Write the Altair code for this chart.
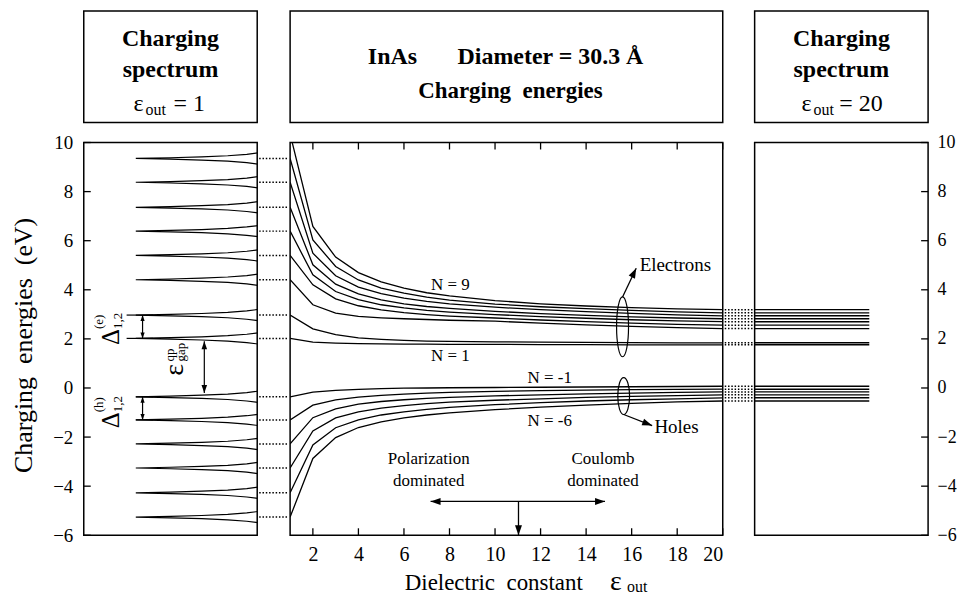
import altair as alt
import pandas as pd

FONT = "Liberation Serif"
NB = "\u00a0"

# ---------------- data ----------------
EPS = [1, 2, 3, 4, 5, 6, 7, 8, 10, 12, 14, 16, 18, 20]

ELEC_N1 = [2.02, 1.87, 1.83, 1.81, 1.80, 1.79, 1.79, 1.78, 1.78, 1.77, 1.77, 1.76, 1.76, 1.76]
ELEC_N2 = [2.97, 2.41, 2.17, 2.04, 1.98, 1.94, 1.91, 1.90, 1.88, 1.87, 1.86, 1.85, 1.84, 1.84]
ELEC_N3 = [4.41, 3.39, 3.05, 2.92, 2.86, 2.82, 2.79, 2.76, 2.72, 2.64, 2.57, 2.51, 2.46, 2.42]
ELEC_N4 = [5.40, 4.20, 3.63, 3.35, 3.18, 3.07, 2.99, 2.93, 2.85, 2.77, 2.70, 2.64, 2.59, 2.56]
ELEC_N5 = [6.39, 4.61, 3.93, 3.60, 3.39, 3.26, 3.16, 3.09, 2.99, 2.91, 2.84, 2.78, 2.73, 2.70]
ELEC_N6 = [7.36, 5.02, 4.23, 3.83, 3.59, 3.43, 3.32, 3.24, 3.12, 3.03, 2.96, 2.90, 2.85, 2.82]
ELEC_N7 = [8.38, 5.49, 4.57, 4.11, 3.84, 3.66, 3.53, 3.43, 3.29, 3.19, 3.11, 3.04, 2.98, 2.94]
ELEC_N8 = [9.35, 6.03, 4.95, 4.40, 4.07, 3.86, 3.70, 3.58, 3.42, 3.31, 3.23, 3.16, 3.10, 3.06]
ELEC_N9 = [10.35, 6.58, 5.33, 4.70, 4.32, 4.07, 3.88, 3.75, 3.56, 3.43, 3.34, 3.27, 3.22, 3.19]

HOLE_N1 = [-0.36, -0.17, -0.10, -0.06, -0.03, -0.01, 0.00, 0.01, 0.02, 0.03, 0.04, 0.05, 0.06, 0.07]
HOLE_N2 = [-1.30, -0.70, -0.48, -0.37, -0.30, -0.25, -0.21, -0.18, -0.14, -0.11, -0.09, -0.07, -0.06, -0.05]
HOLE_N3 = [-2.28, -1.21, -0.85, -0.66, -0.55, -0.48, -0.42, -0.38, -0.32, -0.28, -0.24, -0.21, -0.18, -0.16]
HOLE_N4 = [-3.26, -1.75, -1.22, -0.97, -0.82, -0.72, -0.64, -0.58, -0.50, -0.44, -0.38, -0.34, -0.31, -0.28]
HOLE_N5 = [-4.27, -2.32, -1.62, -1.30, -1.10, -0.97, -0.87, -0.79, -0.68, -0.60, -0.53, -0.48, -0.44, -0.40]
HOLE_N6 = [-5.26, -2.87, -2.02, -1.61, -1.38, -1.22, -1.10, -1.01, -0.88, -0.78, -0.70, -0.63, -0.57, -0.53]

CURVES = {
    "1": ELEC_N1, "2": ELEC_N2, "3": ELEC_N3, "4": ELEC_N4, "5": ELEC_N5,
    "6": ELEC_N6, "7": ELEC_N7, "8": ELEC_N8, "9": ELEC_N9,
    "-1": HOLE_N1, "-2": HOLE_N2, "-3": HOLE_N3, "-4": HOLE_N4, "-5": HOLE_N5, "-6": HOLE_N6,
}

# peaks of the eps_out = 1 charging spectrum
PEAKS = [9.35, 8.38, 7.36, 6.39, 5.40, 4.41, 2.97, 2.02,
         -0.36, -1.30, -2.28, -3.26, -4.27, -5.26]
# shape of one spectral spike: energy offset vs. intensity
SPIKE_DE = [0.26, 0.17, 0.11, 0.065, 0.03, 0.0, -0.03, -0.065, -0.11, -0.17, -0.26]
SPIKE_I = [-0.04, 0.06, 0.17, 0.32, 0.50, 0.70, 0.50, 0.32, 0.17, 0.06, -0.04]

Y_TICKS = [-6, -4, -2, 0, 2, 4, 6, 8, 10]
X_TICKS = [2, 4, 6, 8, 10, 12, 14, 16, 18, 20]

# ---------------- sizes / shapes ----------------
H = 394
W_L, W_G1, W_M, W_G2, W_R = 174, 33, 434, 32, 174
BOX_H = 112
ARROW = "M0 0 L0.7 2 L-0.7 2 Z"
ELL_E = "M0 -1 A0.2 1 0 0 1 0 1 A0.2 1 0 0 1 0 -1 Z"
ELL_H = "M0 -1 A0.32 1 0 0 1 0 1 A0.32 1 0 0 1 0 -1 Z"

yscale = alt.Scale(domain=[-6, 10], nice=False, zero=False)
iscale = alt.Scale(domain=[0, 1], reverse=True, nice=False, zero=False)
escale = alt.Scale(domain=[1, 20], nice=False, zero=False)

curves_df = pd.DataFrame(
    [{"N": n, "eps": e, "E": v} for n, vals in CURVES.items() for e, v in zip(EPS, vals)]
)
end_df = pd.DataFrame({"E": [vals[-1] for vals in CURVES.values()]})
peaks_df = pd.DataFrame({"E": PEAKS})
spike_df = pd.DataFrame(
    [{"peak": k, "order": j, "E": p + d, "I": i}
     for k, p in enumerate(PEAKS) for j, (d, i) in enumerate(zip(SPIKE_DE, SPIKE_I))]
)
ytick_df = pd.DataFrame({"E": Y_TICKS})
xtick_df = pd.DataFrame({"eps": X_TICKS})
one = pd.DataFrame({"a": [0]})


def txt(text, x, y, size, weight="normal", align="left", baseline="alphabetic", angle=0):
    return alt.Chart(one).mark_text(
        text=text, font=FONT, fontSize=size, fontWeight=weight, align=align,
        baseline=baseline, angle=angle, color="black"
    ).encode(x=alt.value(x), y=alt.value(y))


# ---------------- left panel: charging spectrum eps=1 ----------------
left_axis = alt.Axis(
    values=Y_TICKS, ticks=False, domain=False, grid=False, labelFontSize=19,
    labelPadding=11, labelFont=FONT, labelColor="black",
    title=f"Charging{NB}{NB}energies{NB}{NB}(eV)", titleFont=FONT, titleFontSize=26,
    titleFontWeight="normal", titleColor="black", titleAngle=270, titleAlign="center",
    titleBaseline="alphabetic", titleX=-52, titleY=203,
)
YL = alt.Y("E:Q", scale=yscale, axis=left_axis)
XI = alt.X("I:Q", scale=iscale, axis=None)

spikes = alt.Chart(spike_df).mark_line(clip=True, color="black", strokeWidth=1.2).encode(
    x=XI, y=YL, detail="peak:N", order="order:Q")
lticks = alt.Chart(ytick_df).mark_rule(color="black", strokeWidth=1.3).encode(
    y=YL, x=alt.value(0), x2=alt.value(7))

left_rules_df = pd.DataFrame([
    {"I": 0.661, "I2": 0.661, "E": 2.97, "E2": 2.02},
    {"I": 0.661, "I2": 0.661, "E": -0.36, "E2": -1.30},
    {"I": 0.305, "I2": 0.305, "E": 1.90, "E2": -0.20},
    {"I": 0.753, "I2": 0.60, "E": 2.97, "E2": 2.97},
    {"I": 0.753, "I2": 0.60, "E": 2.02, "E2": 2.02},
    {"I": 0.70, "I2": 0.60, "E": -0.36, "E2": -0.36},
    {"I": 0.70, "I2": 0.60, "E": -1.30, "E2": -1.30},
])
left_rules = alt.Chart(left_rules_df).mark_rule(color="black", strokeWidth=1.2).encode(
    x=XI, x2="I2:Q", y=YL, y2="E2:Q")
left_heads_df = pd.DataFrame([
    {"I": 0.661, "E": 2.97, "ang": 0, "sz": 36},
    {"I": 0.661, "E": 2.02, "ang": 180, "sz": 36},
    {"I": 0.661, "E": -0.36, "ang": 0, "sz": 36},
    {"I": 0.661, "E": -1.30, "ang": 180, "sz": 36},
    {"I": 0.305, "E": 1.90, "ang": 0, "sz": 64},
    {"I": 0.305, "E": -0.20, "ang": 180, "sz": 64},
])
left_heads = alt.Chart(left_heads_df).mark_point(
    shape=ARROW, filled=True, color="black", opacity=1, strokeWidth=0).encode(
    x=XI, y=YL, angle=alt.Angle("ang:Q", scale=None), size=alt.Size("sz:Q", scale=None))

left_lab_df = pd.DataFrame([
    {"t": "Δ", "I": 0.845, "E": 2.08, "fs": 25},
    {"t": "Δ", "I": 0.845, "E": -1.31, "fs": 25},
    {"t": "ε", "I": 0.471, "E": 0.74, "fs": 28},
])
left_big = alt.Chart(left_lab_df).mark_text(
    font=FONT, angle=270, align="center", baseline="middle", color="black", fontSize=24).encode(
    x=XI, y=YL, text="t:N", size=alt.Size("fs:Q", scale=None))
left_small_df = pd.DataFrame([
    {"t": "(e)", "I": 0.914, "E": 2.40},
    {"t": "1,2", "I": 0.800, "E": 2.40},
    {"t": "(h)", "I": 0.914, "E": -0.99},
    {"t": "1,2", "I": 0.800, "E": -0.99},
    {"t": "qp", "I": 0.505, "E": 1.08},
    {"t": "gap", "I": 0.440, "E": 1.08},
])
left_small = alt.Chart(left_small_df).mark_text(
    font=FONT, angle=270, align="left", baseline="middle", color="black", fontSize=13).encode(
    x=XI, y=YL, text="t:N")

left_panel = alt.layer(spikes, lticks, left_rules, left_heads, left_big, left_small).properties(
    width=W_L, height=H)

# ---------------- gap 1: dotted connectors ----------------
gap1 = alt.Chart(peaks_df).mark_rule(color="black", strokeWidth=1.5, strokeDash=[1.5, 1.8]).encode(
    y=alt.Y("E:Q", scale=yscale, axis=None), x=alt.value(2), x2=alt.value(31)
).properties(width=W_G1, height=H, view=alt.ViewBackground(stroke="transparent"))

# ---------------- middle panel: charging energies vs eps_out ----------------
mid_x_axis = alt.Axis(values=X_TICKS, ticks=False, domain=False, grid=False, labelFontSize=20,
                      labelPadding=9, labelFont=FONT, labelColor="black", title=None)
XM = alt.X("eps:Q", scale=escale, axis=mid_x_axis)
YM = alt.Y("E:Q", scale=yscale, axis=None)

mid_lines = alt.Chart(curves_df).mark_line(clip=True, color="black", strokeWidth=1.3).encode(
    x=XM, y=YM, detail="N:N")
mticks_b = alt.Chart(xtick_df).mark_rule(color="black", strokeWidth=1.3).encode(
    x=XM, y=alt.value(H), y2=alt.value(H - 7))
mticks_t = alt.Chart(xtick_df).mark_rule(color="black", strokeWidth=1.3).encode(
    x=XM, y=alt.value(0), y2=alt.value(7))

n_df = pd.DataFrame([
    {"t": f"N{NB}={NB}9", "eps": 8.04, "E": 4.19},
    {"t": f"N{NB}={NB}1", "eps": 8.04, "E": 1.31},
    {"t": f"N{NB}={NB}-1", "eps": 12.4, "E": 0.42},
    {"t": f"N{NB}={NB}-6", "eps": 12.4, "E": -1.33},
    {"t": "Polarization", "eps": 7.09, "E": -2.91},
    {"t": "dominated", "eps": 7.09, "E": -3.77},
    {"t": "Coulomb", "eps": 14.74, "E": -2.91},
    {"t": "dominated", "eps": 14.74, "E": -3.77},
])
n_text = alt.Chart(n_df).mark_text(
    font=FONT, fontSize=17, align="center", baseline="middle", color="black").encode(
    x=XM, y=YM, text="t:N")
eh_df = pd.DataFrame([
    {"t": "Electrons", "eps": 16.35, "E": 5.0},
    {"t": "Holes", "eps": 17.0, "E": -1.57},
])
eh_text = alt.Chart(eh_df).mark_text(
    font=FONT, fontSize=19, align="left", baseline="middle", color="black").encode(
    x=XM, y=YM, text="t:N")

ell_e = alt.Chart(pd.DataFrame({"eps": [15.6], "E": [2.49]})).mark_point(
    shape=ELL_E, filled=False, color="black", opacity=1, strokeWidth=1.2, size=3600).encode(x=XM, y=YM)
ell_h = alt.Chart(pd.DataFrame({"eps": [15.65], "E": [-0.33]})).mark_point(
    shape=ELL_H, filled=False, color="black", opacity=1, strokeWidth=1.2, size=1369).encode(x=XM, y=YM)

mid_rules_df = pd.DataFrame([
    {"eps": 15.6, "eps2": 16.2, "E": 3.71, "E2": 4.88},
    {"eps": 15.65, "eps2": 16.9, "E": -1.08, "E2": -1.53},
    {"eps": 7.17, "eps2": 14.83, "E": -4.62, "E2": -4.62},
    {"eps": 11.03, "eps2": 11.03, "E": -4.62, "E2": -6.0},
])
mid_rules = alt.Chart(mid_rules_df).mark_rule(color="black", strokeWidth=1.3).encode(
    x=XM, x2="eps2:Q", y=YM, y2="E2:Q")
mid_heads_df = pd.DataFrame([
    {"eps": 16.2, "E": 4.88, "ang": 26},
    {"eps": 16.9, "E": -1.53, "ang": 111},
    {"eps": 7.17, "E": -4.62, "ang": 270},
    {"eps": 14.83, "E": -4.62, "ang": 90},
    {"eps": 11.03, "E": -6.0, "ang": 180},
])
mid_heads = alt.Chart(mid_heads_df).mark_point(
    shape=ARROW, filled=True, color="black", opacity=1, strokeWidth=0, size=100).encode(
    x=XM, y=YM, angle=alt.Angle("ang:Q", scale=None))

xt1 = txt(f"Dielectric{NB}{NB}constant", 115, 449, 23)
xt2 = txt("ε", 321, 449, 28)
xt3 = txt("out", 338, 451, 16)

mid_panel = alt.layer(mid_lines, mticks_b, mticks_t, n_text, eh_text, ell_e, ell_h,
                      mid_rules, mid_heads, xt1, xt2, xt3).properties(width=W_M, height=H)

# ---------------- gap 2 ----------------
gap2 = alt.Chart(end_df).mark_rule(color="black", strokeWidth=1.5, strokeDash=[1.5, 1.8]).encode(
    y=alt.Y("E:Q", scale=yscale, axis=None), x=alt.value(2), x2=alt.value(30)
).properties(width=W_G2, height=H, view=alt.ViewBackground(stroke="transparent"))

# ---------------- right panel: charging spectrum eps=20 ----------------
right_axis = alt.Axis(orient="right", values=Y_TICKS, ticks=False, domain=False, grid=False,
                      labelFontSize=18, labelPadding=9, labelFont=FONT, labelColor="black",
                      title=None)
YR = alt.Y("E:Q", scale=yscale, axis=right_axis)
r_lines = alt.Chart(end_df).mark_rule(color="black", strokeWidth=1.4).encode(
    y=YR, x=alt.value(0), x2=alt.value(115))
r_ticks = alt.Chart(ytick_df).mark_rule(color="black", strokeWidth=1.3).encode(
    y=YR, x=alt.value(W_R - 7), x2=alt.value(W_R))
right_panel = alt.layer(r_lines, r_ticks).properties(width=W_R, height=H)

# ---------------- top title boxes ----------------
box_left = alt.layer(
    txt("Charging", 87, 35, 24, "bold", "center"),
    txt("spectrum", 87, 66, 24, "bold", "center"),
    txt("ε", 50, 100, 24),
    txt("out", 62, 104, 16),
    txt("= 1", 90, 100, 24),
).properties(width=W_L, height=BOX_H)
box_mid = alt.layer(
    txt("InAs", 78, 53, 24, "bold"),
    txt("Diameter = 30.3 Å", 168, 53, 24, "bold"),
    txt(f"Charging{NB}{NB}energies", 221, 87, 23, "bold", "center"),
).properties(width=W_M, height=BOX_H)
box_right = alt.layer(
    txt("Charging", 87, 35, 24, "bold", "center"),
    txt("spectrum", 87, 66, 24, "bold", "center"),
    txt("ε", 47, 100, 24),
    txt("out", 59, 104, 16),
    txt("= 20", 85, 100, 24),
).properties(width=W_R, height=BOX_H)


def blank(w):
    return txt("", w / 2, BOX_H / 2, 10, align="center", baseline="middle").properties(
        width=w, height=BOX_H, view=alt.ViewBackground(stroke="transparent"))


chart = alt.concat(
    box_left, blank(W_G1), box_mid, blank(W_G2), box_right,
    left_panel, gap1, mid_panel, gap2, right_panel,
    columns=5, spacing={"row": 20, "column": 0}, bounds="flush", align="each",
).properties(
    padding={"left": 2, "top": 1, "right": 0, "bottom": 0}
).configure(font=FONT).configure_view(stroke="black", strokeWidth=1.5)

chart.save("out.html", embed_options={"renderer": "svg", "actions": False})
